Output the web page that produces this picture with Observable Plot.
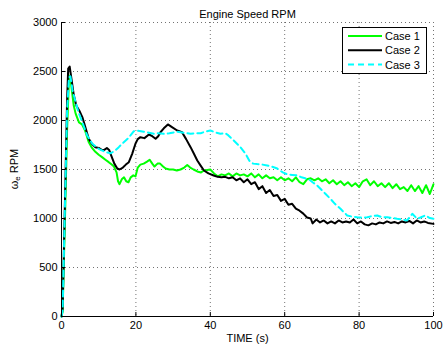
<!DOCTYPE html>
<html>
<head>
<meta charset="utf-8">
<script src="https://cdn.jsdelivr.net/npm/d3@7"></script>
<script src="https://cdn.jsdelivr.net/npm/@observablehq/plot@0.6"></script>
<style>
  body { margin: 0; background: #fff; }
  #chart { width: 443px; height: 354px; }
</style>
</head>
<body>
<div id="chart"></div>
<script>
const titleText = "Engine Speed RPM";
const xLabelText = "TIME (s)";
const xTicks = [0, 20, 40, 60, 80, 100];
const yTicks = [0, 500, 1000, 1500, 2000, 2500, 3000];
const seriesNames = ["Case 1", "Case 2", "Case 3"];
const seriesColors = ["#00ff00", "#000000", "#00ffff"];

const case1T = [0,0.3,1,1.5,2,2.3,2.8,3.3,3.8,4.7,5.5,6.3,7.3,8.2,9.1,10,10.9,11.8,12.7,13.5,14.1,14.8,15.2,15.6,16.2,16.8,17.4,18,18.6,19.3,19.9,20.5,21.2,22.1,23,23.7,24.4,25,25.8,26.5,27.3,28,29,30,31,32,33,33.8,34.6,35.5,36.5,37.5,38.3,39.2,40,41,42,43,44,45,46,47,48,49,50,51,52,53,54,55,56,57,58,59,60,61,62,63,64,65,66,67,68,69,70,71,72,73,74,75,76,77,78,79,80,81,82,83,84,85,86,87,88,89,90,91,92,93,94,95,96,97,98,99,100];
const case1V = [0,50,1100,1900,2420,2460,2300,2150,2070,1980,1960,1900,1780,1720,1680,1650,1626,1600,1575,1550,1530,1470,1380,1350,1400,1420,1380,1370,1420,1440,1430,1520,1550,1560,1580,1600,1560,1530,1560,1560,1530,1510,1500,1500,1490,1500,1520,1545,1520,1500,1480,1470,1490,1495,1500,1460,1430,1450,1440,1460,1430,1460,1440,1450,1430,1460,1420,1450,1410,1440,1410,1420,1390,1420,1390,1410,1380,1420,1370,1350,1400,1410,1390,1410,1380,1400,1360,1390,1350,1380,1340,1370,1330,1360,1320,1380,1400,1340,1380,1330,1360,1320,1360,1310,1350,1300,1320,1280,1340,1280,1330,1260,1340,1250,1350];

const case2T = [0,0.3,1,1.5,1.8,2.2,2.7,3.3,4,4.8,5.6,6.5,7.3,8.2,9.1,10,10.8,11.5,12.2,12.8,13.4,14.2,15,15.6,16.5,17.3,18.1,19,19.9,20.5,21.2,22.3,23.5,24.4,25.3,26,26.6,27.5,28.6,29.8,31.1,32.4,33.5,34.7,35.6,36.5,37.4,38.3,39.5,40.9,42,43,44,45,46,47,48,49,50,51,52,53,54,55,56,57,58,59,60,61,62,63,64,65,66,67,67.5,68.5,69.5,70.5,71.5,72.5,73.5,74.5,75.5,76.5,77.5,78.5,79.5,80.5,81.5,82.5,83.5,84.5,85.5,86.5,87.5,88.5,89.5,90.5,91.5,92.5,93.5,94.5,95.5,96.5,97.5,98.5,100];
const case2V = [0,80,1300,2200,2530,2550,2420,2260,2150,2100,2035,1920,1815,1760,1728,1720,1700,1700,1720,1700,1640,1560,1510,1500,1520,1550,1575,1660,1765,1810,1830,1820,1857,1840,1813,1840,1880,1920,1960,1930,1898,1880,1810,1728,1660,1592,1540,1490,1460,1439,1425,1420,1425,1410,1420,1390,1410,1370,1400,1350,1370,1300,1330,1260,1290,1230,1240,1180,1200,1140,1150,1100,1080,1050,1010,1000,950,990,960,980,950,970,950,980,960,970,960,990,950,970,940,930,950,940,960,950,970,955,965,950,970,960,975,950,980,960,970,955,945];

const case3T = [0,0.3,1,1.5,2,2.4,3,3.8,4.6,5.6,6.9,8.3,10,11.8,13.2,14.3,15.4,16.5,17.7,18.6,19.4,20.5,22.1,23.5,24.8,26,27.5,29,31.1,33,34.7,36,37.4,38.5,40,41.3,42.7,44,44.8,46.3,48.1,49.5,50.5,51.5,52.6,54,55.3,56.5,58,59.5,60.7,62,63.4,64.5,65.5,66.5,67.5,68.7,69.6,71,72.3,73.5,75,76,76.8,78,79.5,81,82.2,83.5,84.9,86,87.6,89,90.2,91.5,92.9,94.3,95.6,96.5,97.8,99,100];
const case3V = [0,60,1250,2100,2440,2450,2300,2187,2080,1983,1847,1762,1711,1677,1665,1690,1728,1770,1810,1850,1890,1895,1885,1875,1864,1870,1864,1870,1885,1875,1864,1870,1870,1885,1898,1880,1865,1870,1850,1796,1728,1660,1590,1560,1555,1550,1541,1530,1510,1470,1450,1445,1440,1420,1410,1400,1370,1337,1303,1250,1201,1150,1099,1060,1031,1020,1013,1010,1013,1025,1031,1015,1013,1005,997,990,980,1048,997,1010,1031,1005,997];

const seriesT = [case1T, case2T, case3T];
const seriesV = [case1V, case2V, case3V];
const data = seriesNames.flatMap((name, i) => seriesT[i].map((t, j) => ({series: name, t, v: seriesV[i][j]})));

const FONT = "'Liberation Sans', Arial, Helvetica, sans-serif";
const gridStyle = {stroke: "#000", strokeOpacity: 0.55, strokeDasharray: "1,3", strokeWidth: 1};

const chart = Plot.plot({
  width: 443,
  height: 354,
  marginLeft: 61,
  marginRight: 10,
  marginTop: 22,
  marginBottom: 38,
  style: {fontFamily: FONT, fontSize: "11px", color: "#000", background: "#fff"},
  x: {domain: [0, 100], ticks: xTicks, label: null},
  y: {domain: [0, 3000], ticks: yTicks, label: null},
  color: {domain: seriesNames, range: seriesColors},
  marks: [
    Plot.gridX(xTicks, gridStyle),
    Plot.gridY(yTicks, gridStyle),
    Plot.line(data.filter(d => d.series === seriesNames[0]), {x: "t", y: "v", stroke: "series", strokeWidth: 2, curve: "linear"}),
    Plot.line(data.filter(d => d.series === seriesNames[1]), {x: "t", y: "v", stroke: "series", strokeWidth: 2, curve: "linear"}),
    Plot.line(data.filter(d => d.series === seriesNames[2]), {x: "t", y: "v", stroke: "series", strokeWidth: 2, strokeDasharray: "6,4", curve: "linear"}),
    Plot.ruleX([xTicks[0]], {stroke: "#000", strokeWidth: 1}),
    Plot.ruleY([yTicks[0]], {stroke: "#000", strokeWidth: 1}),
    Plot.tickX(xTicks, {x: d => d, stroke: "#000", insetTop: 290}),
    Plot.tickY(yTicks, {y: d => d, stroke: "#000", insetRight: 368}),
    Plot.axisX({ticks: xTicks, tickSize: 0, tickPadding: 5, label: null, fontSize: 11, tickFormat: d => String(d)}),
    Plot.axisY({ticks: yTicks, tickSize: 0, tickPadding: 4, label: null, fontSize: 11, tickFormat: d => String(d)}),
    Plot.text([titleText], {frameAnchor: "top", dy: -12, fontSize: 11, fill: "#000"}),
    Plot.text([xLabelText], {frameAnchor: "bottom", dy: 25, fontSize: 11, fill: "#000"})
  ]
});

document.getElementById("chart").appendChild(chart);

const svg = d3.select(chart);
// y label with subscript
const yl = svg.append("text")
  .attr("transform", "translate(14,169) rotate(-90)")
  .attr("text-anchor", "middle")
  .attr("dominant-baseline", "central")
  .attr("font-family", FONT)
  .attr("font-size", 11)
  .attr("fill", "#000");
yl.append("tspan").text("ω");
yl.append("tspan").attr("font-size", 8).attr("dy", 3).text("e");
yl.append("tspan").attr("dy", -3).text(" RPM");

// legend
const lg = svg.append("g").attr("font-family", FONT).attr("font-size", 11).attr("text-anchor", "start");
lg.append("rect").attr("x", 342.5).attr("y", 27.5).attr("width", 84).attr("height", 46)
  .attr("fill", "#fff").attr("stroke", "#000").attr("stroke-width", 1);
seriesNames.forEach((name, i) => {
  const yy = 36 + i * 14.3;
  lg.append("line").attr("x1", 348).attr("x2", 382).attr("y1", yy).attr("y2", yy)
    .attr("stroke", seriesColors[i]).attr("stroke-width", 2)
    .attr("stroke-dasharray", i === 2 ? "6,4" : null);
  lg.append("text").attr("x", 385).attr("y", yy).attr("dominant-baseline", "central")
    .attr("text-anchor", "start").attr("fill", "#000").text(name);
});
</script>
</body>
</html>
